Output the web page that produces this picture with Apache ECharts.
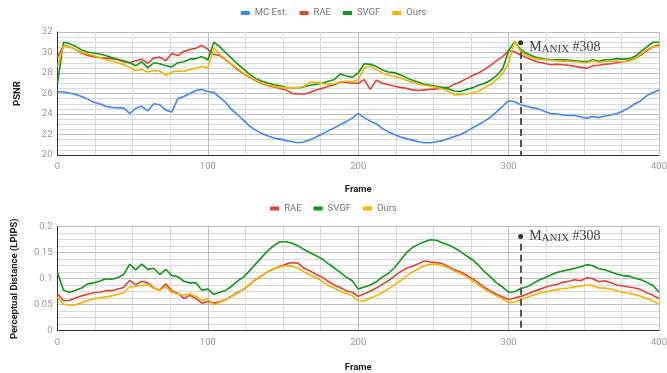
<!DOCTYPE html>
<html>
<head>
<meta charset="utf-8">
<title>PSNR / LPIPS per frame</title>
<script src="https://cdn.jsdelivr.net/npm/echarts@6/dist/echarts.min.js"></script>
<style>
  html, body { margin: 0; padding: 0; background: #fff; }
  #chart { width: 667px; height: 373px; }
</style>
</head>
<body>
<div id="chart"></div>
<script>
// values, one sample every 4 frames (0..400)
const frameStep = 4

const mcEst = [
  26.2, 26.15, 26.05, 25.9, 25.7, 25.45, 25.15, 25.0, 24.75, 24.65,
  24.6, 24.6, 24.05, 24.55, 24.75, 24.3, 25.0, 24.9, 24.4, 24.2,
  25.5, 25.7, 26.0, 26.3, 26.4, 26.2, 26.1, 25.6, 25.1, 24.4,
  23.9, 23.35, 22.8, 22.4, 22.1, 21.85, 21.65, 21.55, 21.4, 21.3,
  21.2, 21.3, 21.5, 21.75, 22.05, 22.35, 22.65, 22.95, 23.25, 23.6,
  24.05, 23.65, 23.3, 23.05, 22.6, 22.25, 22.0, 21.75, 21.6, 21.45,
  21.3, 21.2, 21.2, 21.3, 21.4, 21.6, 21.8, 22.0, 22.3, 22.65,
  22.95, 23.3, 23.7, 24.2, 24.75, 25.3, 25.2, 24.9, 24.75, 24.6,
  24.5, 24.25, 24.05, 24.0, 23.9, 23.85, 23.85, 23.7, 23.6, 23.75,
  23.65, 23.8, 23.9, 24.05, 24.3, 24.6, 25.0, 25.3, 25.8, 26.1,
  26.35
]
const psnrRae = [
  29.5, 30.7, 30.55, 30.3, 29.95, 29.7, 29.6, 29.5, 29.45, 29.4,
  29.3, 29.1, 29.0, 29.2, 29.35, 28.95, 29.45, 29.55, 29.2, 29.9,
  29.7, 30.1, 30.3, 30.4, 30.7, 30.3, 29.8, 29.7, 29.25, 28.8,
  28.3, 27.9, 27.55, 27.25, 26.95, 26.75, 26.65, 26.5, 26.35, 26.0,
  25.95, 25.95, 26.1, 26.35, 26.5, 26.7, 26.85, 27.1, 27.1, 27.0,
  27.0, 27.35, 26.4, 27.3, 27.0, 26.85, 26.7, 26.6, 26.5, 26.35,
  26.3, 26.35, 26.4, 26.45, 26.55, 26.6, 26.9, 27.15, 27.45, 27.75,
  28.0, 28.35, 28.75, 29.2, 29.6, 30.2, 30.05, 29.75, 29.5, 29.25,
  29.05, 28.95, 28.8, 28.85, 28.8, 28.75, 28.65, 28.55, 28.45, 28.7,
  28.75, 28.85, 28.9, 29.0, 29.1, 29.2, 29.4, 29.75, 30.2, 30.55,
  30.75
]
const psnrSvgf = [
  27.0, 31.0, 30.85, 30.6, 30.25, 30.05, 29.95, 29.85, 29.7, 29.5,
  29.35, 29.2, 29.0, 28.7, 29.1, 28.5, 29.0, 28.9, 28.7, 28.6,
  29.0, 29.1, 29.35, 29.4, 29.6, 29.3, 31.0, 30.55, 29.95, 29.4,
  28.85, 28.35, 27.85, 27.45, 27.2, 27.0, 26.85, 26.75, 26.6, 26.55,
  26.55, 26.65, 26.8, 26.9, 27.0, 27.2, 27.35, 27.9, 27.7, 27.6,
  28.0, 28.9, 28.85, 28.65, 28.3, 28.1, 28.05, 27.8, 27.55, 27.3,
  27.1, 26.9, 26.8, 26.7, 26.6, 26.45, 26.25, 26.2, 26.4, 26.55,
  26.8, 27.0, 27.3, 27.75, 28.4, 30.2, 31.05, 30.3, 29.9, 29.65,
  29.45, 29.35, 29.3, 29.28, 29.3, 29.27, 29.2, 29.15, 29.1, 29.3,
  29.15, 29.3, 29.3, 29.4, 29.35, 29.4, 29.6, 30.1, 30.55, 31.0,
  31.0
]
const psnrOurs = [
  28.6, 30.65, 30.55, 30.3, 30.05, 29.85, 29.7, 29.5, 29.3, 29.15,
  29.0, 28.8, 28.55, 28.25, 28.35, 28.1, 28.25, 28.2, 27.75, 28.1,
  28.2, 28.15, 28.35, 28.45, 28.65, 28.5, 30.45, 29.8, 29.3, 28.85,
  28.4, 27.95, 27.6, 27.3, 27.0, 26.8, 26.7, 26.6, 26.6, 26.55,
  26.55, 26.7, 27.1, 27.1, 26.95, 26.9, 26.95, 27.15, 27.2, 27.15,
  27.35, 28.5, 28.7, 28.35, 28.0, 27.8, 27.65, 27.5, 27.3, 27.1,
  26.9, 26.8, 26.7, 26.6, 26.45, 26.2, 25.85, 25.9, 25.95, 26.05,
  26.25, 26.55, 26.9, 27.35, 27.9, 29.0, 31.1, 30.1, 29.7, 29.45,
  29.35, 29.3, 29.25, 29.2, 29.15, 29.15, 29.1, 29.05, 29.0, 29.2,
  29.05, 29.1, 29.15, 29.15, 29.1, 29.15, 29.4, 29.85, 30.3, 30.6,
  30.6
]

const lpipsRae = [
  0.071, 0.058, 0.058, 0.063, 0.067, 0.070, 0.073, 0.074, 0.077, 0.077,
  0.080, 0.083, 0.097, 0.088, 0.095, 0.092, 0.082, 0.078, 0.090, 0.077,
  0.072, 0.062, 0.068, 0.062, 0.053, 0.056, 0.053, 0.056, 0.060, 0.067,
  0.074, 0.080, 0.089, 0.099, 0.106, 0.114, 0.119, 0.124, 0.128, 0.131,
  0.130, 0.120, 0.115, 0.108, 0.103, 0.095, 0.088, 0.083, 0.077, 0.074,
  0.066, 0.071, 0.076, 0.082, 0.089, 0.096, 0.105, 0.113, 0.120, 0.124,
  0.129, 0.134, 0.132, 0.131, 0.129, 0.123, 0.117, 0.113, 0.107, 0.100,
  0.092, 0.083, 0.076, 0.070, 0.065, 0.060, 0.063, 0.066, 0.070, 0.075,
  0.079, 0.083, 0.087, 0.089, 0.093, 0.095, 0.098, 0.096, 0.102, 0.100,
  0.094, 0.096, 0.092, 0.088, 0.086, 0.084, 0.082, 0.079, 0.073, 0.068,
  0.062
]
const lpipsSvgf = [
  0.112, 0.078, 0.074, 0.078, 0.082, 0.090, 0.092, 0.095, 0.100, 0.099,
  0.102, 0.108, 0.128, 0.117, 0.128, 0.118, 0.120, 0.108, 0.118, 0.106,
  0.104, 0.095, 0.092, 0.092, 0.078, 0.080, 0.070, 0.074, 0.078, 0.086,
  0.096, 0.104, 0.116, 0.129, 0.142, 0.154, 0.164, 0.171, 0.171, 0.168,
  0.163, 0.156, 0.150, 0.144, 0.138, 0.129, 0.121, 0.112, 0.103, 0.096,
  0.080, 0.084, 0.088, 0.094, 0.103, 0.110, 0.121, 0.135, 0.150, 0.160,
  0.166, 0.171, 0.175, 0.174, 0.169, 0.165, 0.159, 0.152, 0.144, 0.136,
  0.126, 0.113, 0.103, 0.092, 0.084, 0.074, 0.075, 0.081, 0.084, 0.090,
  0.097, 0.102, 0.107, 0.112, 0.115, 0.117, 0.120, 0.123, 0.127, 0.125,
  0.119, 0.117, 0.113, 0.109, 0.106, 0.105, 0.101, 0.098, 0.093, 0.087,
  0.074
]
const lpipsOurs = [
  0.065, 0.051, 0.049, 0.050, 0.054, 0.058, 0.061, 0.063, 0.065, 0.067,
  0.070, 0.073, 0.084, 0.085, 0.087, 0.089, 0.081, 0.078, 0.084, 0.074,
  0.071, 0.068, 0.071, 0.066, 0.058, 0.061, 0.050, 0.055, 0.060, 0.066,
  0.073, 0.081, 0.089, 0.099, 0.106, 0.114, 0.119, 0.123, 0.125, 0.124,
  0.120, 0.113, 0.107, 0.102, 0.095, 0.087, 0.082, 0.076, 0.072, 0.067,
  0.058, 0.057, 0.063, 0.067, 0.074, 0.080, 0.088, 0.096, 0.105, 0.113,
  0.119, 0.125, 0.128, 0.128, 0.125, 0.121, 0.115, 0.110, 0.104, 0.096,
  0.088, 0.080, 0.073, 0.067, 0.061, 0.054, 0.055, 0.060, 0.064, 0.068,
  0.072, 0.074, 0.077, 0.079, 0.081, 0.082, 0.084, 0.086, 0.088, 0.086,
  0.082, 0.082, 0.080, 0.077, 0.074, 0.072, 0.069, 0.066, 0.062, 0.057,
  0.051
]

const frames = mcEst.map((_, i) => i * frameStep)

// axis steps: labelled step and the lighter sub-grid step
const frameAxis = { min: 0, max: 400, label: 100, grid: 25 }
const psnrAxis = { min: 20, max: 32, label: 2, grid: 0.5 }
const lpipsAxis = { min: 0, max: 0.2, label: 0.05, grid: 0.0125 }

// highlighted frame: dot position and dashed line span, in data units
const markerFrame = 308
const markerPsnr = { dot: 30.96, from: 30.05, to: 20 }
const markerLpips = { dot: 0.181, from: 0.167, to: 0 }

const colors = {
  'MC Est.': '#4285f4',
  'RAE': '#db4437',
  'SVGF': '#109618',
  'Ours': '#f4b400'
}

const tickText = { color: '#999', fontSize: 9.5, fontFamily: 'Roboto, Arial, sans-serif' }
const titleText = { color: '#222', fontSize: 9.5, fontWeight: 'bold', fontFamily: 'Roboto, Arial, sans-serif' }
const legendText = { color: '#757575', fontSize: 9.5, fontFamily: 'Roboto, Arial, sans-serif' }

function line(name, values, idx) {
  return {
    name,
    type: 'line',
    xAxisIndex: idx,
    yAxisIndex: idx,
    data: values.map((v, i) => [frames[i], v]),
    symbol: 'none',
    showSymbol: false,
    lineStyle: { width: 1.6, color: colors[name] },
    itemStyle: { color: colors[name] },
    emphasis: { disabled: true }
  }
}

function marker(idx, m, labelOffset) {
  return {
    type: 'scatter',
    xAxisIndex: idx,
    yAxisIndex: idx,
    data: [[markerFrame, m.dot]],
    symbolSize: 5,
    itemStyle: { color: '#000' },
    z: 5,
    silent: true,
    label: {
      show: true,
      position: 'right',
      distance: 6,
      offset: labelOffset,
      formatter: '{cap|M}{sc|ANIX}{cap| #308}',
      rich: {
        cap: { fontSize: 14, color: '#111', fontFamily: '"Liberation Serif", "DejaVu Serif", serif', lineHeight: 14, verticalAlign: 'bottom' },
        sc: { fontSize: 11, color: '#111', fontFamily: '"Liberation Serif", "DejaVu Serif", serif', lineHeight: 14, verticalAlign: 'bottom' }
      }
    },
    markLine: {
      silent: true,
      symbol: ['none', 'none'],
      label: { show: false },
      lineStyle: { type: [7, 4], color: '#555', width: 2 },
      data: [[{ coord: [markerFrame, m.from] }, { coord: [markerFrame, m.to] }]]
    }
  }
}

// one tick per sub-grid step; every n-th line is darker and carries a label
function gridAxis(a, labelMargin) {
  const n = Math.round(a.label / a.grid)
  const lineColors = ['#bdbdbd']
  for (let i = 1; i < n; i++) lineColors.push('#d9d9d9')
  return {
    type: 'value',
    min: a.min,
    max: a.max,
    interval: a.grid,
    axisLine: { show: true, onZero: false, lineStyle: { color: '#333', width: 1 } },
    axisTick: { show: false },
    axisLabel: Object.assign({
      margin: labelMargin,
      formatter: v => {
        const k = (v - a.min) / a.label
        return Math.abs(k - Math.round(k)) < 1e-6 ? String(+v.toFixed(4)) : ''
      }
    }, tickText),
    splitLine: { show: true, lineStyle: { color: lineColors, width: 1 } }
  }
}

function xAxis(idx, nameGap) {
  return Object.assign(gridAxis(frameAxis, 7), {
    gridIndex: idx,
    name: 'Frame',
    nameLocation: 'middle',
    nameGap,
    nameTextStyle: titleText
  })
}

function yAxis(idx, a, name, nameGap) {
  return Object.assign(gridAxis(a, 5), {
    gridIndex: idx,
    name,
    nameLocation: 'middle',
    nameGap,
    nameTextStyle: titleText
  })
}

const legendBase = {
  left: 'center',
  icon: 'rect',
  itemWidth: 9,
  itemHeight: 4,
  itemGap: 12,
  selectedMode: false,
  textStyle: legendText
}

const chart = echarts.init(document.getElementById('chart'), null, { renderer: 'canvas' })
chart.setOption({
  animation: false,
  backgroundColor: '#fff',
  legend: [
    Object.assign({ top: 3, data: ['MC Est.', 'RAE', 'SVGF', 'Ours'] }, legendBase),
    Object.assign({ top: 198.5, data: ['RAE', 'SVGF', 'Ours'] }, legendBase)
  ],
  grid: [
    { left: 57.5, top: 32, width: 601.5, height: 123, outerBoundsMode: 'none' },
    { left: 57.5, top: 226.7, width: 601.5, height: 104, outerBoundsMode: 'none' }
  ],
  xAxis: [xAxis(0, 30), xAxis(1, 32)],
  yAxis: [
    yAxis(0, psnrAxis, 'PSNR', 35),
    yAxis(1, lpipsAxis, 'Perceptual Distance (LPIPS)', 38)
  ],
  series: [
    line('MC Est.', mcEst, 0),
    line('RAE', psnrRae, 0),
    line('SVGF', psnrSvgf, 0),
    line('Ours', psnrOurs, 0),
    marker(0, markerPsnr, [0, 4.5]),
    line('RAE', lpipsRae, 1),
    line('SVGF', lpipsSvgf, 1),
    line('Ours', lpipsOurs, 1),
    marker(1, markerLpips, [0, 0])
  ]
})
</script>
</body>
</html>
